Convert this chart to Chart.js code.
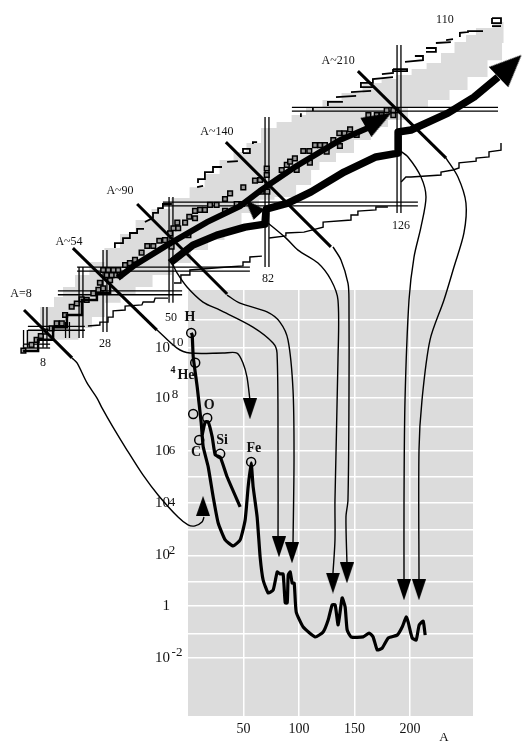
<!DOCTYPE html>
<html><head><meta charset="utf-8">
<script src="https://cdn.jsdelivr.net/npm/chart.js@4"></script>
<style>
html,body{margin:0;padding:0;background:#fff}
#wrap{position:relative;width:522px;height:743px;overflow:hidden}
canvas{position:absolute;left:0;top:0}
</style></head><body>
<div id="wrap"><canvas id="panel" width="522" height="743"></canvas><canvas id="nuclear" width="522" height="743"></canvas></div>
<script>
// ---------- abundance panel: mass number A, log10 abundance
const xTickValues=[50,100,150,200];
const gridLog=[11,9.93,8.86,8,6.9,5.97,4.97,3.96,2.95,1.95,0.95,0,-1.07,-2];
const gridText=['','10','','10','','10','','10','','10','','1','','10'];
const exponents=[['10',-9.7,10.15],['8',-11.5,8.12],['6',-14.2,5.96],['4',-14.2,3.96],['2',-14.2,2.15],['-2',-9.7,-1.81]];
const abundanceCurve=[[2.9,10.5],[3.8,10.42],[4.7,9.58],[8.3,8.42],[11.9,7.04],[13.7,6.12],[18.2,5.35],[22.7,4.19],[27.2,3.19],[33.5,2.54],[40.7,2.31],[47,2.54],[51.5,3.31],[54.2,4.58],[56.9,5.5],[58.7,4.58],[62.3,3.42],[65,1.88],[67.7,1],[72.3,0.5],[76.8,0.62],[80.4,1.31],[83,1.23],[85.7,1.23],[87.6,0.12],[89.4,0.12],[90.3,1.19],[92.1,1.31],[93.9,0.88],[95.7,0.88],[97.5,-0.23],[103.8,-0.81],[114.6,-1.19],[121.8,-1],[126.3,-0.54],[129.9,0.04],[132.6,0.04],[135.3,-0.73],[138.9,0.31],[141.6,-0.04],[143.4,-0.92],[147,-1.19],[157.8,-1.19],[163.2,-1.04],[166.8,-1.19],[170.5,-1.69],[175,-1.62],[180.4,-1.23],[188.5,-1.12],[193,-0.81],[196.6,-0.42],[198.4,-0.62],[202,-1.23],[205.6,-1.31],[208.3,-0.73],[211.9,-0.58],[213.7,-1.12]];
const alphaBranch=[[12.8,6.58],[15.5,7.08],[18.2,7.08],[21.8,6.5],[24.5,5.81],[29,5.73],[35.3,4.96],[47,3.81]];
const elementCircles=[[2.9,10.5],[6.5,9.35],[4.7,7.38],[17.3,7.23],[10.1,6.38],[29,5.85],[56.9,5.54]];
const elementLabels=[['H',2,11.12,14],['He',-1.6,8.88,14],['4',-13.3,9.08,10],['O',19.2,7.73,14],['C',7.4,5.92,14],['Si',30.8,6.38,14],['Fe',59.6,6.08,14]];
const axisLabel=[['A',230.8,-5.08,13]];

// ---------- nuclide chart: neutron number N, proton number Z
const magicN=[[1.5,7.4,1.4],[8,15.2,1.4],[15.5,10.1,4.7],[20,28.7,4.7],[28,34.5,6.8],[50,52.4,16.6],[82,79.4,28.7],[126,103.7,47]];
const magicZ=[[2,0.7,9.7],[8,2.3,21.3],[20,12.3,53.7],[28,18.7,76.3],[50,47.3,132.3],[82,90.3,159]];
const bandOutline=[[0.3,2.4],[3,7.4],[9.7,15.2],[12.3,18.6],[15.7,22],[20.3,26],[25.3,30.4],[30.3,35.1],[35.7,39.9],[40.7,44.6],[46.3,48.3],[53.7,52],[58.7,55.7],[63.7,60.1],[68.7,64.9],[73,67.6],[77.3,70.6],[82.7,75.7],[87.7,77.7],[92.7,80.1],[97.3,82.8],[103.7,85.1],[110,87.5],[117.7,90.9],[122.7,92.2],[127.7,93.6],[132.7,95.6],[137.7,97.6],[142.3,101],[146.7,104.7],[150,107.1],[153.3,109.5],[161,111.5],[160.7,104.4],[160,98.6],[151,92.9],[146.7,88.5],[139,85.1],[132.3,82.8],[125.7,78.4],[119,76],[114.3,71.6],[107.7,67.2],[102.3,64.2],[96.7,61.5],[96.7,56.4],[86.7,52.4],[82.3,51.4],[76.3,47],[70.7,41.2],[65,37.8],[59.7,34.5],[53.7,30.1],[47,26],[40.7,22],[35.7,19.3],[30.7,16.6],[25.3,11.8],[22,8.1],[16.3,4.1],[9.7,4.1],[0.7,0.7]];
const stableNuclei=[[0.8,0.45],[3.5,2.4],[5.2,4.1],[6.6,5.4],[8,6.9],[10.2,8],[11.9,9.7],[13.6,9.7],[14.7,12.5],[16.9,15.3],[18.6,16.4],[20.2,17.8],[21.9,17.6],[24.1,19.8],[25.8,21],[27.4,21.5],[29.7,24.3],[29.7,26],[31.3,26],[33,26],[26.3,23.4],[27.4,27.7],[29.1,27.7],[30.8,27.7],[32.4,27.7],[28.6,26],[30.2,26],[34.7,29.4],[36.3,30],[38,31.1],[40.2,33.6],[42.1,35.8],[44.1,35.8],[46.1,37.6],[48,37.8],[49.7,40.1],[50.8,41.8],[52.4,41.8],[52.1,43.7],[54.7,43.7],[56.1,45.7],[58,47.7],[58,45.2],[55.8,39.5],[50.2,35.6],[59.7,48],[61.3,48],[63,49.7],[65.2,49.7],[68,51.7],[69.7,53.6],[74.1,55.6],[78,57.9],[79.7,58.1],[81.9,59.8],[81.9,62],[86.9,61.5],[88.6,63.2],[68,47.7],[71.9,50],[73.6,50],[80.2,54.2],[82.1,54.2],[89.7,64.3],[91.3,65.4],[91.9,61.5],[94.1,67.9],[96.1,67.9],[98,69.9],[99.7,69.9],[101.3,69.9],[101.9,67.7],[96.3,64],[104.1,71.6],[106.1,73.9],[107.8,73.9],[109.7,75.2],[106.3,69.6],[111.9,73.3],[115.8,80],[118.6,80],[120.2,80],[121.9,81.7],[124.1,80],[125.2,81.7],[124.1,81.7]];
const protonRichStairs=[
 [[31.3,35.1],[31.3,36.8],[34,36.8],[34,38.5],[36.3,38.5],[36.3,40.2],[38.7,40.2],[38.7,41.6],[41,41.6]],
 [[41.3,43.9],[44,45.3],[44,47],[45.7,47],[45.7,48.6],[47.3,48.6],[47.3,50],[50.3,50]],
 [[58.7,55.7],[60.7,56.1]],
 [[59,57.1],[59,58.4],[61.3,58.4],[61.3,60.8],[64,60.8],[64,62.5],[67,62.5]],
 [[68.7,64.2],[72.3,64.5]],
 [[74,67.2],[76.3,67.2],[76.3,68.6],[74,68.6],[74,67.2]],
 [[77.3,70.3],[77.3,70.9],[78.7,70.9]],
 [[93.3,79.4],[93.3,80.7]],
 [[97.3,81.4],[97.3,82.8]],
 [[102.3,83.1],[102.3,84.5],[107.3,84.5]],
 [[105,86.1],[111.7,86.5]],
 [[110,87.8],[116.7,88.2]],
 [[117.3,89.5],[113.3,89.5],[113.3,90.9],[117.3,90.9],[117.3,92.2],[124,92.9]],
 [[120.3,93.9],[124.3,94.3]],
 [[124,95.6],[128.7,95.6],[128.7,94.9],[124,94.9],[124,95.6]],
 [[128,98],[134,98.6],[134,100],[131.3,100]],
 [[135,101.4],[138.3,101.4],[138.3,102.7],[135,102.7]],
 [[138.3,104.4],[143.3,104.7]],
 [[141.7,105.4],[144,105.7]],
 [[146.3,106.4],[146.3,107.8],[149,108.1],[149,108.4],[154,108.4]],
 [[157,112.8],[160,112.8],[160,111.1],[157,111.1],[157,112.8]],
 [[157,110.1],[160,110.1]]
];
const neutronRichStairs=[
 [[22.3,8.8],[26.3,9.1],[26.3,10.1],[29,10.1],[29,11.8],[30.7,11.8],[30.7,13.9],[34.7,14.2],[34.7,15.5],[40.3,15.9],[40.7,16.9],[44.3,16.9],[44.7,18.2],[49,18.2]],
 [[51,23.3],[53,23.3],[53.3,26],[56.3,26],[56.3,27.7],[68.7,28.7],[74,29.1],[74,30.4],[76.3,30.4],[76.3,32.1],[80.3,32.4]],
 [[82.7,38.5],[88.3,39.2],[88.3,40.2],[94.3,40.5],[100.7,42.2],[100.7,43.9],[110,44.6],[110,46.3],[112.3,46.3],[112.3,47.6],[118.3,48],[118.3,49],[122.3,49]],
 [[126.7,57.4],[128.3,59.1],[130,59.1],[140,59.8],[140,60.8],[144,61.5],[146,62.2],[146,63.9],[151.7,64.5],[151.7,65.5],[156,65.9],[156,67.6],[160,68.2],[160,70.6]]
];
const sPathLow=[[0.7,0.3],[5.7,4.1],[10.7,8.4],[15.3,12.5],[20.3,17.6],[25.3,19.9],[29.7,23.3]];
const sPath=[[32.3,25],[38,29.4],[48.7,36.1],[62,43.9],[73,49.3],[80,54.7],[91.3,62.5],[106.3,71.6],[118.7,77]];
const rPath=[[49.7,30.1],[57.3,36.1],[65.3,39.5],[74.7,42.2],[81.3,43.2],[81.7,48.3],[89,50.3],[96.7,54.1],[107.7,60.8],[118.3,65.9],[125.7,67.2],[125.7,74.3],[130,75],[142.3,80.7],[151,86.1],[159,92.9]];
const isobars=[[[1,14.2],[17,-2]],[[17.3,35.1],[45.3,7.4]],[[38.7,50],[68.7,19.6]],[[68.3,70.9],[103.3,35.5]],[[112.3,94.9],[141.7,65.5]]];
const nuclearLabels=[['A=8',0,19.6],['A~54',16,37.2],['A~90',33,54.4],['A~140',65.3,74.3],['A~210',105.7,98.3],['110',141.3,112.2],['126',126.7,42.6],['82',82.3,24.7],['50',50,11.5],['28',28,2.7],['8',7.3,-3.7]];

// ---------- connectors from the nuclide chart to the abundance peaks, in A / log10
const connectors=[
 [[-104.3,9.54],[-99.8,9.35],[-90.8,8.58],[-81.8,8],[-77.3,7.62],[-67.4,6.88],[-54.8,6],[-40.4,5.04],[-26.8,4.27],[-8.8,3.42],[0.2,3.12],[6.5,3.08],[12.8,3.23],[14.6,3.42]],
 [[-27.7,10.62],[-9.7,9.92],[2,9.73],[31.7,9.73],[44.3,9.73],[49.7,9.35],[53.3,8.81],[56,7.92]],
 [[35.3,11.96],[47,11.65],[71.4,11.31],[83,10.92],[90.3,10.23],[94.8,8.31],[95.7,5.73],[94.8,2.42]],
 [[-13.3,13.12],[-9.7,12.81],[-0.7,12.27],[13.7,11.69],[29,11.38],[58.7,10.73],[76.8,10.12],[80.4,9.73],[81.3,5.73],[81.3,2.62]],
 [[130.8,13.81],[138,13.31],[144.3,12.42],[145.2,11.77],[145.2,7.92],[144.3,4.08],[142.5,3.42],[143.4,1.65]],
 [[72.3,14.73],[88.5,14.15],[99.3,13.69],[117.3,13.19],[129,12.54],[135.3,11.77],[135.3,9.46],[132.6,4.08],[132.6,2.54],[130.8,1.27]],
 [[190.3,17.54],[198.4,17.27],[210.1,16.5],[214.6,15.73],[210.1,14.58],[203.8,13.42],[199.3,11.77],[195.7,7.92],[194.8,4.08],[194.8,1]],
 [[232.6,17.23],[243.4,16.5],[250.6,15.5],[248.8,14.35],[239.8,13.04],[230.8,11.77],[218.2,10.23],[211,7.92],[208.3,6],[208.3,1]]
];
const downArrowHeads=[[56,7.58],[93.9,2.04],[82.2,2.27],[143.4,1.27],[130.8,0.88],[194.8,0.62],[208.3,0.62]];
const upArrowHeads=[[13.7,3.85]];
const pathArrowHeads=[[163,96.6,46,28,32],[119.3,78.4,60,22,30],[77,49,-43,15,21]]; // N, Z, heading, then size of the head

function head(w,h){
  const c=document.createElement('canvas');c.width=w;c.height=h;
  const g=c.getContext('2d');g.fillStyle='#000';g.beginPath();g.moveTo(w/2,0);g.lineTo(w,h);g.lineTo(0,h);g.closePath();g.fill();
  return c;
}
const SERIF='"Liberation Serif","Times New Roman",serif';
function drawText(ctx,t,x,y,font){ctx.font=font;ctx.fillStyle='#111';ctx.textAlign='center';ctx.textBaseline='middle';ctx.fillText(t,x,y);}

// ---- lower layer: grey panel with its real axes
new Chart(document.getElementById('panel'),{
  type:'scatter',
  data:{datasets:[
    {data:elementCircles,showLine:false,pointStyle:'circle',pointRadius:4.5,borderColor:'#000',backgroundColor:'rgba(0,0,0,0)',pointBorderWidth:1.5,clip:false,order:1},
    {data:alphaBranch,showLine:true,borderColor:'#000',borderWidth:3.2,pointRadius:0,tension:0.15,clip:false,order:2},
    {data:abundanceCurve,showLine:true,borderColor:'#000',borderWidth:3.2,pointRadius:0,tension:0.15,clip:false,order:3}
  ]},
  options:{responsive:false,animation:false,events:[],
    layout:{autoPadding:false,padding:{left:148,top:290,right:49,bottom:0}},
    plugins:{legend:{display:false},tooltip:{enabled:false}},
    scales:{
      x:{type:'linear',min:0,max:256.8,
        afterBuildTicks:s=>{s.ticks=xTickValues.map(v=>({value:v}));},
        afterFit:s=>{s.height=27;},
        grid:{color:'#fff',lineWidth:1.5,drawTicks:false},border:{display:false},
        ticks:{autoSkip:false,maxRotation:0,padding:5,color:'#111',font:{family:SERIF,size:14},callback:v=>String(v)}},
      y:{type:'linear',min:-4.23,max:12.15,
        afterBuildTicks:s=>{s.ticks=gridLog.map(v=>({value:v}));},
        afterFit:s=>{s.width=40;},
        grid:{color:'#fff',lineWidth:1.5,drawTicks:false},border:{display:false},
        ticks:{autoSkip:false,padding:18,color:'#111',font:{family:SERIF,size:15},callback:(v,i)=>gridText[i]}}
    }
  },
  plugins:[{id:'panelFill',beforeDraw(c){const a=c.chartArea,g=c.ctx;g.save();g.fillStyle='#dcdcdc';g.fillRect(a.left,a.top,a.right-a.left,a.bottom-a.top);g.restore();}}]
});

// ---- upper layer: nuclide chart, connectors, arrows, annotations
const ds=[];
function line(data,xId,yId,width,order,extra){ds.push(Object.assign({data,xAxisID:xId,yAxisID:yId,showLine:true,borderColor:'#000',borderWidth:width,pointRadius:0,tension:0,clip:false,order},extra||{}));}
line(bandOutline,'xN','yZ',0,50,{fill:'shape',backgroundColor:'#dcdcdc',stepped:'middle',borderColor:'rgba(0,0,0,0)'});
protonRichStairs.forEach(s=>line(s,'xN','yZ',1.8,40));
neutronRichStairs.forEach(s=>line(s,'xN','yZ',1.4,40));
magicN.forEach(m=>{[-0.65,0.65].forEach(d=>line([[m[0]+d,m[1]],[m[0]+d,m[2]]],'xN','yZ',1.3,30));});
magicZ.forEach(m=>{[-0.65,0.65].forEach(d=>line([[m[1],m[0]+d],[m[2],m[0]+d]],'xN','yZ',1.3,30));});
ds.push({data:stableNuclei,xAxisID:'xN',yAxisID:'yZ',showLine:false,pointStyle:'rect',pointRadius:3.3,pointBorderWidth:1.5,borderColor:'#000',pointBackgroundColor:'#999',clip:false,order:25});
line(sPathLow,'xN','yZ',2.5,24,{stepped:true});
line(sPath,'xN','yZ',6,20);
line(rPath,'xN','yZ',7.5,20,{borderJoinStyle:'round'});
isobars.forEach(s=>line(s,'xN','yZ',3,15));
connectors.forEach(s=>line(s,'xA','yL',1.4,10,{tension:0.3}));
[[downArrowHeads,180,14,21],[upArrowHeads,0,14,20]].forEach(([pts,rot,w,h])=>{
  ds.push({data:pts,xAxisID:'xA',yAxisID:'yL',showLine:false,pointStyle:head(w,h),pointRotation:rot,pointRadius:6,clip:false,order:2});
});
pathArrowHeads.forEach(p=>{
  ds.push({data:[[p[0],p[1]]],xAxisID:'xN',yAxisID:'yZ',showLine:false,pointStyle:head(p[3],p[4]),pointRotation:p[2],pointRadius:8,clip:false,order:2});
});
const hide={type:'linear',display:false};
new Chart(document.getElementById('nuclear'),{
  type:'scatter',
  data:{datasets:ds},
  options:{responsive:false,animation:false,events:[],
    layout:{autoPadding:false,padding:0},
    plugins:{legend:{display:false},tooltip:{enabled:false}},
    scales:{
      xN:Object.assign({axis:'x',min:-7,max:167},hide),
      yZ:Object.assign({axis:'y',min:-132.09,max:118.92},hide),
      xA:Object.assign({axis:'x',min:-169.2,max:301.1},hide),
      yL:Object.assign({axis:'y',min:-5.27,max:23.31},hide)
    }
  },
  plugins:[{id:'texts',afterDraw(c){
    const g=c.ctx,s=c.scales;g.save();
    nuclearLabels.forEach(l=>drawText(g,l[0],s.xN.getPixelForValue(l[1]),s.yZ.getPixelForValue(l[2]),'12px '+SERIF));
    elementLabels.forEach(l=>drawText(g,l[0],s.xA.getPixelForValue(l[1]),s.yL.getPixelForValue(l[2]),'bold '+l[3]+'px '+SERIF));
    axisLabel.forEach(l=>drawText(g,l[0],s.xA.getPixelForValue(l[1]),s.yL.getPixelForValue(l[2]),l[3]+'px '+SERIF));
    exponents.forEach(l=>drawText(g,l[0],s.xA.getPixelForValue(l[1]),s.yL.getPixelForValue(l[2]),'13px '+SERIF));
    g.restore();
  }}]
});
</script></body></html>
